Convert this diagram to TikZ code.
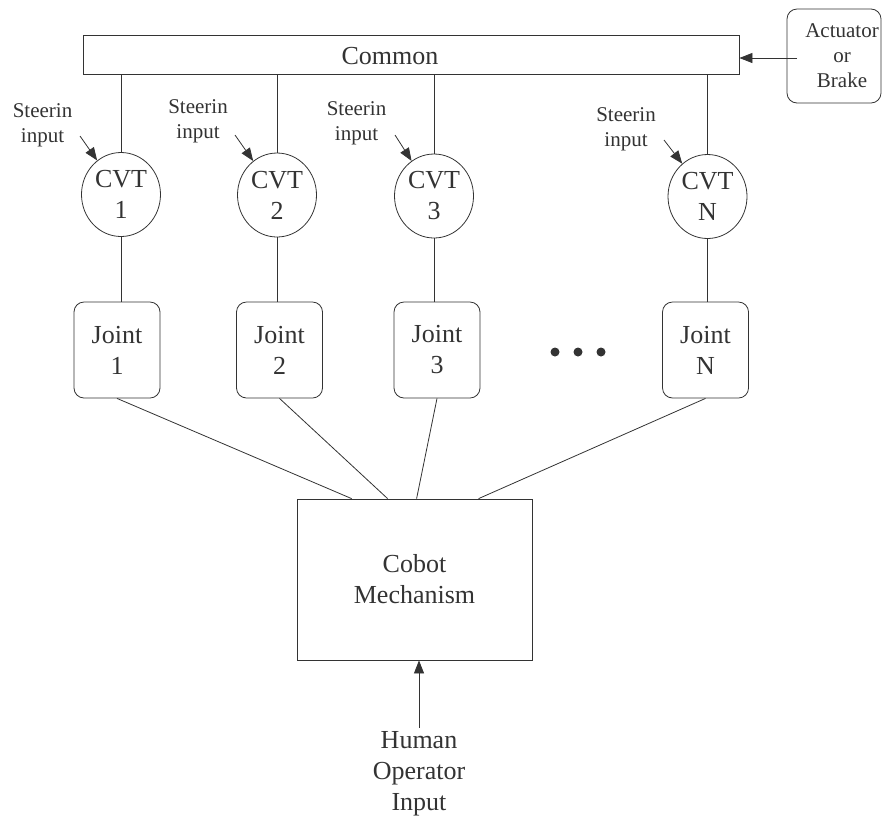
\documentclass[tikz,border=0pt]{standalone}
\usepackage{fontspec}
\setmainfont{Liberation Serif}
\usetikzlibrary{arrows.meta,calc,shapes.geometric}
\definecolor{ink}{gray}{0.2}
\tikzset{
  ln/.style={draw=ink,line width=0.8pt},
  tip/.style={-{Triangle[length=13pt,width=10pt]}},
  big/.style={font=\fontsize{26}{31}\selectfont,text=ink,align=center},
  small/.style={font=\fontsize{21}{25}\selectfont,text=ink,align=center},
  cvtnode/.style={ellipse,ln,minimum width=79pt,minimum height=84pt,inner sep=0pt,big},
  jointbox/.style={rectangle,rounded corners=10pt,ln,minimum width=86pt,minimum height=96pt,inner sep=0pt,big},
  dotmark/.style={circle,fill=ink,inner sep=0pt,minimum size=9pt}
}
\begin{document}
\begin{tikzpicture}[x=1pt,y=-1pt]
\useasboundingbox (0,0) rectangle (882,820);
% common bar
\node[rectangle,ln,minimum width=656pt,minimum height=39pt,inner sep=0pt,
      label={[big,xshift=-21pt,yshift=-2pt]center:Common}] (common) at (411,54.5) {};
% actuator
\node[rectangle,rounded corners=10pt,ln,minimum width=94pt,minimum height=94pt,inner sep=0pt,
      label={[small,align=center,xshift=8pt]center:Actuator\\or\\Brake}] (act) at (834,56) {};
\coordinate (actout) at (797,58);
\draw[ln,tip] (actout) -- (common.east |- actout);
% CVTs
\node[cvtnode] (cvt1) at (121,194.5) {CVT\\1};
\node[cvtnode] (cvt2) at (277,195) {CVT\\2};
\node[cvtnode] (cvt3) at (434,196) {CVT\\3};
\node[cvtnode] (cvtN) at (707.5,196.5) {CVT\\N};
% joints
\node[jointbox] (j1) at (117,350) {Joint\\1};
\node[jointbox] (j2) at (279.5,350) {Joint\\2};
\node[jointbox] (j3) at (437,350) {Joint\\3};
\node[jointbox] (jN) at (705.5,350) {Joint\\N};
% dots
\node[dotmark] (d1) at (555,352) {};
\node[dotmark] (d2) at (578,352) {};
\node[dotmark] (d3) at (601,352) {};
% common to CVTs, CVTs to joints
\foreach \c/\j in {cvt1/j1,cvt2/j2,cvt3/j3,cvtN/jN}{
  \draw[ln] (\c.north) -- (\c.north |- common.south);
  \draw[ln] (\c.south) -- (\c.south |- \j.north);
}
% steering inputs
\node[small] (s1) at (42.5,125) {Steerin\\input};
\node[small] (s2) at (198,121.5) {Steerin\\input};
\node[small] (s3) at (356.5,123) {Steerin\\input};
\node[small] (sN) at (626,129.5) {Steerin\\input};
\coordinate (s1a) at (80,136);
\coordinate (s2a) at (235,135);
\coordinate (s3a) at (395,135);
\coordinate (sNa) at (664,140);
\draw[ln,tip] (s1a) -- (cvt1);
\draw[ln,tip] (s2a) -- (cvt2);
\draw[ln,tip] (s3a) -- (cvt3);
\draw[ln,tip] (sNa) -- (cvtN);
% cobot
\node[rectangle,ln,minimum width=235pt,minimum height=161pt,inner sep=0pt,big] (cobot) at (414.5,579.5) {Cobot\\Mechanism};
\draw[ln] (j1.south) -- ($(cobot.north west)+(55,0)$);
\draw[ln] (j2.south) -- ($(cobot.north west)+(91,0)$);
\draw[ln] (j3.south) -- ($(cobot.north west)+(120,0)$);
\draw[ln] (jN.south) -- ($(cobot.north west)+(182,0)$);
% human input
\node[big,inner sep=4pt] (human) at (419,774) {Human\\Operator\\Input};
\draw[ln,tip] (human.north) -- (human.north |- cobot.south);
\end{tikzpicture}
\end{document}
